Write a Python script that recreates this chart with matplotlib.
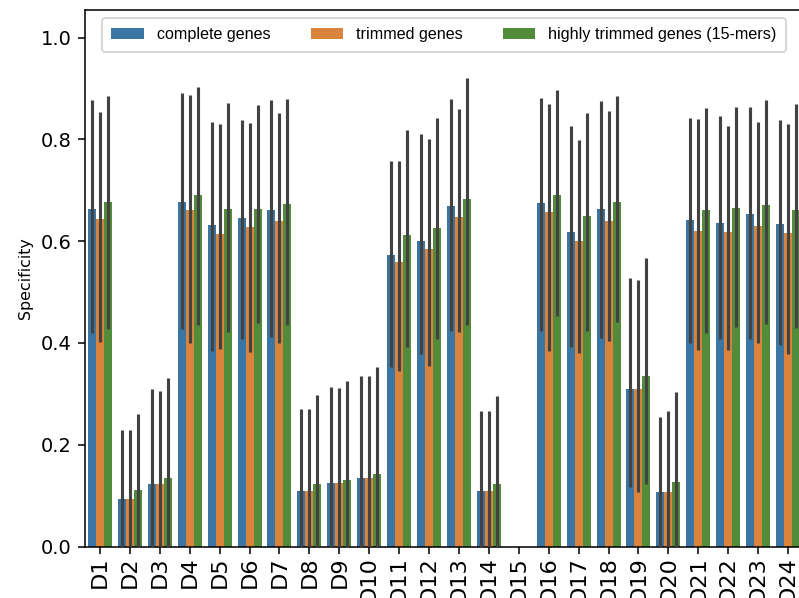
import numpy as np
import matplotlib
matplotlib.use("Agg")
import matplotlib.pyplot as plt

datasets = ["D%d" % i for i in range(1, 25)]
series = ["complete genes", "trimmed genes", "highly trimmed genes (15-mers)"]
colors = ["#3b75a3", "#d9833d", "#528c3a"]

nan = np.nan
# mean specificity per dataset (D15 has no value)
complete = [0.664, 0.094, 0.123, 0.677, 0.632, 0.645, 0.662, 0.110, 0.125, 0.135, 0.573, 0.600,
            0.669, 0.110, nan, 0.675, 0.619, 0.663, 0.310, 0.108, 0.641, 0.635, 0.653, 0.633]
trimmed = [0.643, 0.094, 0.123, 0.661, 0.614, 0.628, 0.639, 0.110, 0.125, 0.135, 0.559, 0.584,
           0.647, 0.110, nan, 0.657, 0.601, 0.640, 0.310, 0.108, 0.620, 0.618, 0.630, 0.616]
highly = [0.677, 0.112, 0.134, 0.691, 0.664, 0.664, 0.674, 0.123, 0.131, 0.142, 0.613, 0.626,
          0.682, 0.123, nan, 0.690, 0.649, 0.677, 0.336, 0.127, 0.662, 0.666, 0.671, 0.662]

# confidence interval bounds
complete_lo = [0.419, 0.0, 0.0, 0.427, 0.384, 0.408, 0.411, 0.0, 0.0, 0.0, 0.353, 0.378,
               0.424, 0.0, nan, 0.424, 0.393, 0.410, 0.117, 0.0, 0.400, 0.407, 0.407, 0.397]
complete_hi = [0.877, 0.228, 0.309, 0.892, 0.834, 0.838, 0.877, 0.270, 0.314, 0.336, 0.757, 0.810,
               0.879, 0.266, nan, 0.881, 0.827, 0.875, 0.528, 0.255, 0.843, 0.846, 0.863, 0.839]
trimmed_lo = [0.402, 0.0, 0.0, 0.400, 0.388, 0.383, 0.400, 0.0, 0.0, 0.0, 0.345, 0.355,
              0.421, 0.0, nan, 0.385, 0.381, 0.403, 0.107, 0.0, 0.387, 0.387, 0.400, 0.378]
trimmed_hi = [0.853, 0.228, 0.306, 0.888, 0.831, 0.833, 0.852, 0.270, 0.312, 0.336, 0.757, 0.800,
              0.859, 0.266, nan, 0.869, 0.798, 0.855, 0.523, 0.266, 0.841, 0.826, 0.834, 0.831]
highly_lo = [0.428, 0.0, 0.0, 0.436, 0.422, 0.440, 0.435, 0.0, 0.0, 0.0, 0.393, 0.407,
             0.435, 0.0, nan, 0.453, 0.423, 0.442, 0.123, 0.0, 0.419, 0.432, 0.438, 0.429]
highly_hi = [0.886, 0.260, 0.332, 0.903, 0.871, 0.867, 0.879, 0.298, 0.326, 0.353, 0.818, 0.842,
             0.920, 0.296, nan, 0.898, 0.851, 0.885, 0.567, 0.304, 0.861, 0.863, 0.877, 0.869]

means = [complete, trimmed, highly]
lows = [complete_lo, trimmed_lo, highly_lo]
highs = [complete_hi, trimmed_hi, highly_hi]

fig = plt.figure(figsize=(799 / 140, 598 / 140), dpi=140)
ax = fig.add_axes([85 / 799, 51.5 / 598, 718 / 799, 536.8 / 598])

x = np.arange(len(datasets))
w = 0.8 / 3
for i in range(3):
    pos = x + (i - 1) * w
    ax.bar(pos, means[i], width=w, color=colors[i], label=series[i], linewidth=0)
    ax.vlines(pos, lows[i], highs[i], color=".26", linewidth=1.6, zorder=3)

ax.set_xlim(-0.5, len(datasets) - 0.5)
ax.set_ylim(0, 1.055)
ax.set_xticks(x)
ax.set_xticklabels(datasets, rotation=90)
ax.tick_params(axis="x", labelsize=11.5, pad=1.5)
ax.set_ylabel("Specificity", fontsize=8.2)

ax.legend(loc="upper center", ncol=3, columnspacing=2.5, borderpad=0.6,
          prop={"family": "Liberation Sans", "size": 8.3})

fig.savefig("out.png", dpi=140)
